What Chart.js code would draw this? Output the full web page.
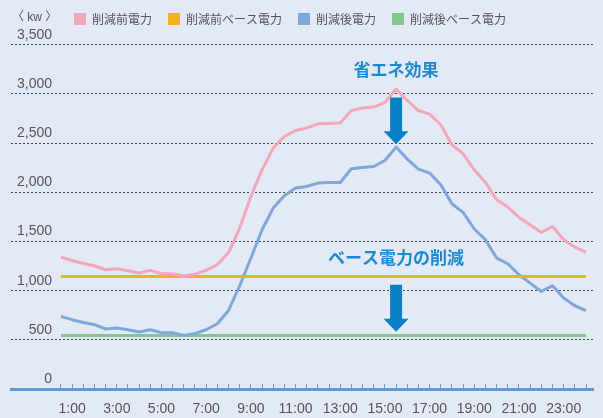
<!DOCTYPE html>
<html>
<head>
<meta charset="utf-8">
<script src="https://cdn.jsdelivr.net/npm/chart.js@4.4.1/dist/chart.umd.min.js"></script>
<style>
  html, body { margin: 0; padding: 0; background: #e3e9f5; }
  #wrap { width: 603px; height: 418px; }
</style>
</head>
<body>
<div id="wrap"><canvas id="powerChart" width="603" height="418"></canvas></div>
<script>
// 30分ごとの時刻 (0:30 - 24:00)
const slots = [
  '0:30', '1:00', '1:30', '2:00', '2:30', '3:00', '3:30', '4:00',
  '4:30', '5:00', '5:30', '6:00', '6:30', '7:00', '7:30', '8:00',
  '8:30', '9:00', '9:30', '10:00', '10:30', '11:00', '11:30', '12:00',
  '12:30', '13:00', '13:30', '14:00', '14:30', '15:00', '15:30', '16:00',
  '16:30', '17:00', '17:30', '18:00', '18:30', '19:00', '19:30', '20:00',
  '20:30', '21:00', '21:30', '22:00', '22:30', '23:00', '23:30', '24:00',
];
const shownTimes = ['1:00', '3:00', '5:00', '7:00', '9:00', '11:00', '13:00', '15:00', '17:00', '19:00', '21:00', '23:00'];
const yTicks = [0, 500, 1000, 1500, 2000, 2500, 3000, 3500];

const beforeLoad = [
  1340, 1307, 1277, 1253, 1213, 1223, 1203, 1179, 1206, 1172, 1172, 1149,
  1168, 1206, 1264, 1385, 1637, 1958, 2229, 2450, 2568, 2629, 2653, 2697,
  2700, 2704, 2832, 2857, 2867, 2914, 3050, 2934, 2832, 2796, 2687, 2484,
  2392, 2229, 2100, 1924, 1850, 1745, 1670, 1592, 1653, 1518, 1444, 1389,
];
const afterLoad = [
  738, 705, 677, 654, 610, 620, 603, 579, 603, 572, 572, 545,
  565, 603, 664, 799, 1050, 1330, 1619, 1840, 1965, 2043, 2060, 2094,
  2100, 2100, 2240, 2253, 2263, 2324, 2460, 2338, 2236, 2196, 2077, 1884,
  1796, 1627, 1518, 1332, 1274, 1162, 1077, 992, 1050, 925, 847, 796,
];
const beforeBase = 1145;
const afterBase = 545;

const seriesNames = ['削減前電力', '削減前ベース電力', '削減後電力', '削減後ベース電力'];
const unitLabel = '〈 kw 〉';

const tickFont = { family: "'Liberation Sans', Arial, sans-serif", size: 14 };
const jpFont = "'Noto Sans CJK JP', sans-serif";

const toPoints = (values) => values.map((y, i) => ({ x: i, y }));
const flatLine = (y) => [{ x: 0, y }, { x: slots.length - 1, y }];

// 注記（省エネ効果 / ベース電力の削減）
const notes = [
  { text: '省エネ効果', slot: 30, textAt: 3250, from: 2965, to: 2490 },
  { text: 'ベース電力の削減', slot: 30, textAt: 1332, from: 1061, to: 582 },
];

const notesPlugin = {
  id: 'notes',
  afterDatasetsDraw(chart) {
    const { ctx, scales: { x, y } } = chart;
    ctx.save();
    notes.forEach((n) => {
      const cx = x.getPixelForValue(n.slot);
      const top = y.getPixelForValue(n.from);
      const tip = y.getPixelForValue(n.to);
      const headTop = tip - 13;
      ctx.fillStyle = '#0782c7';
      ctx.beginPath();
      ctx.moveTo(cx - 6, top);
      ctx.lineTo(cx + 6, top);
      ctx.lineTo(cx + 6, headTop);
      ctx.lineTo(cx + 12.5, headTop);
      ctx.lineTo(cx, tip);
      ctx.lineTo(cx - 12.5, headTop);
      ctx.lineTo(cx - 6, headTop);
      ctx.closePath();
      ctx.fill();

      ctx.fillStyle = '#1b8bd0';
      ctx.font = 'bold 17px ' + jpFont;
      ctx.textAlign = 'center';
      ctx.textBaseline = 'middle';
      ctx.fillText(n.text, cx, y.getPixelForValue(n.textAt));
    });
    ctx.restore();
  },
  afterDraw(chart) {
    const { ctx } = chart;
    ctx.save();
    ctx.fillStyle = '#555';
    ctx.font = "12px 'Liberation Sans', " + jpFont;
    ctx.textAlign = 'left';
    ctx.textBaseline = 'middle';
    ctx.fillText(unitLabel, 12, 18);
    ctx.restore();
  },
};

const lineStyle = (color) => ({
  borderColor: color,
  backgroundColor: color,
  borderWidth: 3,
  pointRadius: 0,
  fill: false,
  borderJoinStyle: 'round',
});

new Chart(document.getElementById('powerChart'), {
  type: 'line',
  data: {
    datasets: [
      { label: seriesNames[0], data: toPoints(beforeLoad), ...lineStyle('#f4a7b8') },
      { label: seriesNames[1], data: flatLine(beforeBase), ...lineStyle('#f5b21c') },
      { label: seriesNames[2], data: toPoints(afterLoad), ...lineStyle('#7fa7d9') },
      { label: seriesNames[3], data: flatLine(afterBase), ...lineStyle('#83c68f') },
    ],
  },
  options: {
    responsive: false,
    animation: false,
    devicePixelRatio: 1,
    layout: { padding: { left: -23, top: -3, right: 0, bottom: 0 } },
    plugins: {
      legend: {
        position: 'top',
        align: 'center',
        onClick: null,
        labels: {
          boxWidth: 12,
          boxHeight: 12,
          padding: 16,
          color: '#555',
          font: { family: jpFont, size: 12 },
          generateLabels: (chart) =>
            Chart.defaults.plugins.legend.labels.generateLabels(chart).map((l) => ({ ...l, lineWidth: 0 })),
        },
      },
      tooltip: { enabled: false },
    },
    scales: {
      x: {
        type: 'linear',
        min: -4.47,
        max: 47.7,
        bounds: 'data',
        afterBuildTicks: (scale) => {
          scale.ticks = slots.map((_, i) => ({ value: i }));
        },
        afterFit: (scale) => {
          scale.height = 29;
        },
        grid: {
          drawOnChartArea: false,
          drawTicks: true,
          tickLength: -5,
          tickColor: '#5d9ad6',
          tickWidth: 1,
        },
        border: { display: true, color: '#5d9ad6', width: 3 },
        ticks: {
          autoSkip: false,
          maxRotation: 0,
          padding: 17,
          color: '#555',
          font: tickFont,
          callback: (v) => (shownTimes.includes(slots[v]) ? slots[v] : ''),
        },
      },
      y: {
        min: 0,
        max: 3600,
        afterBuildTicks: (scale) => {
          scale.ticks = yTicks.map((v) => ({ value: v }));
        },
        afterFit: (scale) => {
          scale.width = 34;
        },
        grid: { color: '#444', lineWidth: 1, drawTicks: false },
        border: { display: false, dash: [2, 2] },
        ticks: {
          mirror: true,
          crossAlign: 'far',
          padding: 6,
          labelOffset: -10,
          color: '#555',
          font: tickFont,
          callback: (v) => v.toLocaleString('en-US'),
        },
      },
    },
  },
  plugins: [notesPlugin],
});
</script>
</body>
</html>
